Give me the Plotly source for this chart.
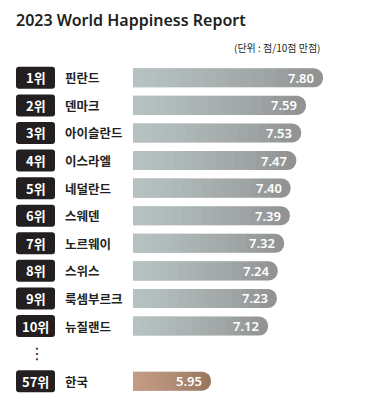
import plotly.graph_objects as go

# ---------------- data ----------------
ranks = ["1위", "2위", "3위", "4위", "5위", "6위", "7위", "8위", "9위", "10위"]
countries = ["핀란드", "덴마크", "아이슬란드", "이스라엘", "네덜란드",
             "스웨덴", "노르웨이", "스위스", "룩셈부르크", "뉴질랜드"]
scores = [7.80, 7.59, 7.53, 7.47, 7.40, 7.39, 7.32, 7.24, 7.23, 7.12]
korea_rank = "57위"
korea_name = "한국"
korea_score = 5.95
title_text = "2023 World Happiness Report"
unit_text = "(단위 : 점/10점 만점)"

# ---------------- layout geometry ----------------
W, H = 369, 414
ml, mr, mt, mb = 133, 10, 64, 19
plot_w = W - ml - mr
plot_h = H - mt - mb
px_per_unit = 80.9
x_start = 5.451            # visible start of the top-10 scale
k_start = 4.986            # visible start of the (broken) Korea scale
x_range = [x_start, x_start + plot_w / px_per_unit]
x2_range = [k_start, k_start + plot_w / px_per_unit]

rows = list(range(len(scores)))
gap_row = len(scores)
korea_row = len(scores) + 1
y_range = [korea_row + 0.5, -0.5]


def px_to_paper_x(px):
    return (px - ml) / plot_w


def py_to_paper_y(py):
    return (H - mb - py) / plot_h


def rrect(w, h, r):
    x1, x2, y1, y2 = -w / 2, w / 2, -h / 2, h / 2
    return (f"M{x1+r},{y1} L{x2-r},{y1} Q{x2},{y1} {x2},{y1+r} "
            f"L{x2},{y2-r} Q{x2},{y2} {x2-r},{y2} L{x1+r},{y2} "
            f"Q{x1},{y2} {x1},{y2-r} L{x1},{y1+r} Q{x1},{y1} {x1+r},{y1} Z")


DARK = "#231f20"
GRAY_END = "#929393"
BROWN_END = "#977761"
GRAY_LIGHT = "rgba(243,244,244,0.042)"
BROWN_LIGHT = "rgba(254,214,177,0.042)"
BAR_W = 0.69
STEPS = 16

fig = go.Figure()

# base bars (darkest colour, rounded end)
fig.add_trace(go.Bar(x=scores, y=rows, orientation="h", width=BAR_W,
                     marker=dict(color=GRAY_END, cornerradius=10, line_width=0),
                     hoverinfo="skip", showlegend=False))
fig.add_trace(go.Bar(x=[korea_score], y=[korea_row], orientation="h", width=BAR_W,
                     xaxis="x2",
                     marker=dict(color=BROWN_END, cornerradius=10, line_width=0),
                     hoverinfo="skip", showlegend=False))

# gradient overlays (lighter towards the left end)
for j in range(1, STEPS):
    f = j / STEPS
    fig.add_trace(go.Bar(x=[x_start + (v - x_start) * f for v in scores], y=rows,
                         orientation="h", width=BAR_W,
                         marker=dict(color=GRAY_LIGHT, line_width=0),
                         hoverinfo="skip", showlegend=False))
    fig.add_trace(go.Bar(x=[k_start + (korea_score - k_start) * f], y=[korea_row],
                         orientation="h", width=BAR_W, xaxis="x2",
                         marker=dict(color=BROWN_LIGHT, line_width=0),
                         hoverinfo="skip", showlegend=False))

annotations = []
shapes = []
badge_x = px_to_paper_x(35.5)
name_x = px_to_paper_x(63)
all_ranks = ranks + [korea_rank]
all_names = countries + [korea_name]
all_rows = rows + [korea_row]

for rk, nm, r in zip(all_ranks, all_names, all_rows):
    shapes.append(dict(type="path", xref="paper", yref="y",
                       xsizemode="pixel", ysizemode="pixel",
                       xanchor=badge_x, yanchor=r, path=rrect(39, 22, 3),
                       fillcolor=DARK, line=dict(width=0), layer="above"))
    annotations.append(dict(x=badge_x, y=r, xref="paper", yref="y", text=rk,
                            showarrow=False, xanchor="center", yanchor="middle",
                            font=dict(family="Noto Sans CJK KR", size=13,
                                      color="white", weight=700)))
    annotations.append(dict(x=name_x, y=r, xref="paper", yref="y", text=nm,
                            showarrow=False, xanchor="left", yanchor="middle",
                            font=dict(family="Noto Sans CJK KR", size=12.5,
                                      color=DARK, weight=700)))

for v, r in zip(scores, rows):
    annotations.append(dict(x=v, y=r, xref="x", yref="y", text=f"{v:.2f}",
                            showarrow=False, xanchor="right", yanchor="middle",
                            xshift=-7,
                            font=dict(family="Noto Sans", size=13,
                                      color="white", weight=600)))
annotations.append(dict(x=korea_score, y=korea_row, xref="x2", yref="y",
                        text=f"{korea_score:.2f}", showarrow=False,
                        xanchor="right", yanchor="middle", xshift=-7,
                        font=dict(family="Noto Sans", size=13,
                                  color="white", weight=600)))

# vertical ellipsis between rank 10 and Korea
annotations.append(dict(x=px_to_paper_x(37), y=gap_row, xref="paper", yref="y",
                        text="⋮", showarrow=False, xanchor="center",
                        yanchor="middle",
                        font=dict(family="DejaVu Sans", size=16, color=DARK)))

# unit note
annotations.append(dict(x=px_to_paper_x(322), y=py_to_paper_y(48), xref="paper",
                        yref="paper", text=unit_text, showarrow=False,
                        xanchor="right", yanchor="middle",
                        font=dict(family="Noto Sans CJK KR", size=10, color=DARK)))

fig.update_layout(
    width=W, height=H,
    margin=dict(l=ml, r=mr, t=mt, b=mb, pad=0),
    paper_bgcolor="white", plot_bgcolor="white",
    barmode="overlay",
    title=dict(text=title_text, x=16 / W, xref="container", xanchor="left",
               y=1 - 20 / H, yref="container", yanchor="middle",
               font=dict(family="Noto Sans", size=16, color=DARK, weight=600)),
    xaxis=dict(range=x_range, visible=False, fixedrange=True),
    xaxis2=dict(range=x2_range, visible=False, overlaying="x", fixedrange=True),
    yaxis=dict(range=y_range, visible=False, fixedrange=True),
    annotations=annotations,
    shapes=shapes,
)

fig.write_html("out.html", config={"displayModeBar": False})
